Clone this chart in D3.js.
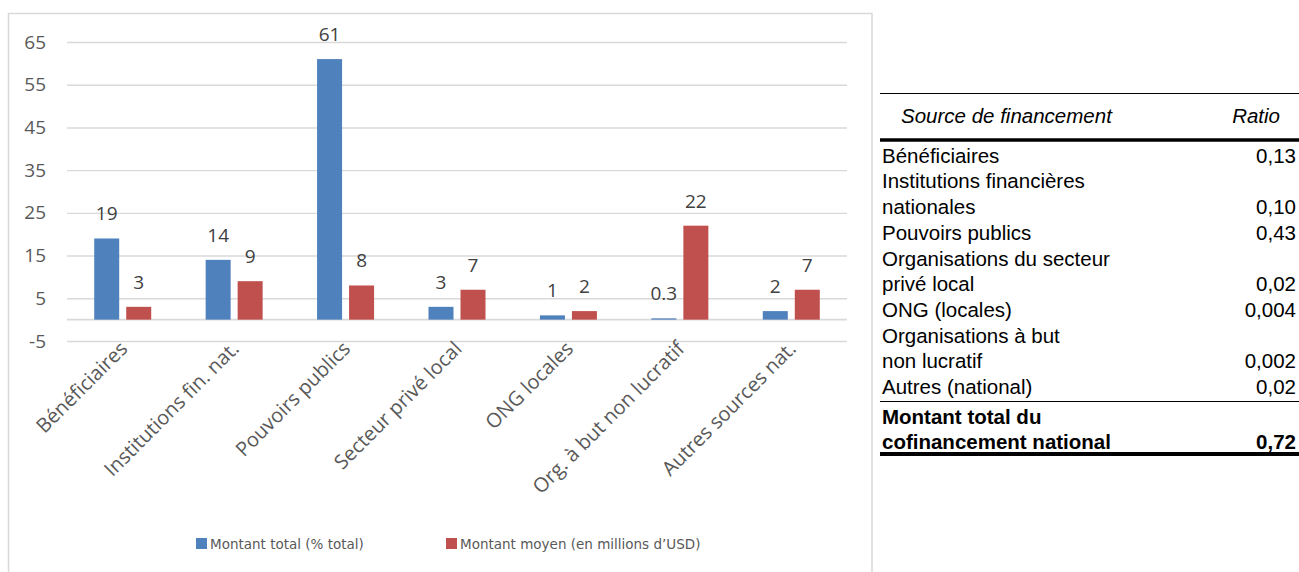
<!DOCTYPE html>
<html lang="fr">
<head>
<meta charset="utf-8">
<script src="https://cdn.jsdelivr.net/npm/d3@7/dist/d3.min.js"></script>
<style>
  html, body { margin: 0; padding: 0; background: #fff; }
  svg { display: block; }
</style>
</head>
<body>
<svg id="chart" width="1299" height="572"></svg>
<script>
// Catégories de sources de financement national
const categories = [
  "Bénéficiaires",
  "Institutions fin. nat.",
  "Pouvoirs publics",
  "Secteur privé local",
  "ONG locales",
  "Org. à but non lucratif",
  "Autres sources nat."
];

// Séries
const seriesNames = ["Montant total (% total)", "Montant moyen (en millions d\u2019USD)"];
const montantTotal = [19, 14, 61, 3, 1, 0.3, 2];
const montantMoyen = [3, 9, 8, 7, 2, 22, 7];

// Graduations de l'axe vertical
const yTicks = [-5, 5, 15, 25, 35, 45, 55, 65];

// Tableau des ratios
const tableSources = [
  ["Bénéficiaires"],
  ["Institutions financières", "nationales"],
  ["Pouvoirs publics"],
  ["Organisations du secteur", "privé local"],
  ["ONG (locales)"],
  ["Organisations à but", "non lucratif"],
  ["Autres (national)"]
];
const tableRatios = ["0,13", "0,10", "0,43", "0,02", "0,004", "0,002", "0,02"];
const totalLabel = ["Montant total du", "cofinancement national"];
const totalRatio = "0,72";

const colors = ["#4f81bd", "#c0504d"];
const svg = d3.select("#chart");

// Cadre du graphique
svg.append("rect")
  .attr("x", 8.5).attr("y", 13.5)
  .attr("width", 863.5).attr("height", 600)
  .attr("fill", "none")
  .attr("stroke", "#d9d9d9")
  .attr("stroke-width", 1.5);

const plotLeft = 67, plotRight = 847;
const y = d3.scaleLinear().domain([-5, 65]).range([341, 42]);
const x0 = d3.scaleBand().domain(categories).range([plotLeft, plotRight]);
const x1 = d3.scaleBand().domain([0, 1]).range([-28.5, 28.5]).paddingInner(7 / 32);

// Quadrillage horizontal
const yAxis = d3.axisLeft(y).tickValues(yTicks).tickSize(-(plotRight - plotLeft)).tickPadding(21).tickFormat(d => String(d));
const gy = svg.append("g").attr("transform", `translate(${plotLeft},0)`).call(yAxis);
gy.select(".domain").remove();
gy.selectAll(".tick line").attr("stroke", "#d9d9d9").attr("stroke-width", 1.4);
gy.selectAll(".tick text")
  .attr("fill", "#595959")
  .style("font-family", "'Open Sans', sans-serif")
  .style("font-size", "19px");

// Ligne de base (zéro)
svg.append("line")
  .attr("x1", plotLeft).attr("x2", plotRight)
  .attr("y1", y(0)).attr("y2", y(0))
  .attr("stroke", "#d9d9d9").attr("stroke-width", 1.6);

// Barres
const series = [montantTotal, montantMoyen];
series.forEach((vals, s) => {
  const g = svg.append("g");
  g.selectAll("rect")
    .data(vals)
    .join("rect")
    .attr("x", (d, i) => x0(categories[i]) + x0.bandwidth() / 2 + x1(s))
    .attr("width", x1.bandwidth())
    .attr("y", d => y(Math.max(0, d)))
    .attr("height", d => Math.abs(y(d) - y(0)))
    .attr("fill", colors[s]);

  g.selectAll("text")
    .data(vals)
    .join("text")
    .attr("x", (d, i) => x0(categories[i]) + x0.bandwidth() / 2 + x1(s) + x1.bandwidth() / 2)
    .attr("y", d => y(d) - 18)
    .attr("text-anchor", "middle")
    .attr("fill", "#404040")
    .style("font-family", "'Open Sans', sans-serif")
    .style("font-size", "19px")
    .text(d => String(d));
});

// Étiquettes des catégories
svg.append("g").selectAll("text")
  .data(categories)
  .join("text")
  .attr("transform", d => `translate(${x0(d) + x0.bandwidth() / 2 + 6},350) rotate(-45)`)
  .attr("text-anchor", "end")
  .attr("fill", "#595959")
  .style("font-family", "'Open Sans', sans-serif")
  .style("font-size", "20px")
  .text(d => d);

// Légende
const legendX = [196, 446];
const lg = svg.append("g");
seriesNames.forEach((name, s) => {
  lg.append("rect")
    .attr("x", legendX[s]).attr("y", 538)
    .attr("width", 11).attr("height", 11)
    .attr("fill", colors[s]);
  lg.append("text")
    .attr("x", legendX[s] + 14).attr("y", 548.5)
    .attr("fill", "#595959")
    .style("font-family", "'DejaVu Sans', sans-serif")
    .style("font-size", "13.5px")
    .text(name);
});

// Tableau des ratios
const tLeft = 880, tRight = 1299, textX = 882, valX = 1296;
const tFont = "'Liberation Sans', Arial, sans-serif";
const tg = svg.append("g").style("font-family", tFont).style("font-size", "20.5px").attr("fill", "#000");

tg.append("line").attr("x1", tLeft).attr("x2", tRight).attr("y1", 93.5).attr("y2", 93.5)
  .attr("stroke", "#000").attr("stroke-width", 1.2);
tg.append("text").attr("x", 901).attr("y", 122.7).style("font-style", "italic").text("Source de financement");
tg.append("text").attr("x", 1280).attr("y", 122.7).attr("text-anchor", "end").style("font-style", "italic").text("Ratio");
tg.append("line").attr("x1", tLeft).attr("x2", tRight).attr("y1", 140).attr("y2", 140)
  .attr("stroke", "#000").attr("stroke-width", 3.4);

const firstBase = 162.7, pitch = 25.7;
let lineIdx = 0;
tableSources.forEach((lines, r) => {
  lines.forEach((ln, k) => {
    tg.append("text").attr("x", textX).attr("y", firstBase + pitch * (lineIdx + k)).text(ln);
  });
  lineIdx += lines.length;
  tg.append("text")
    .attr("x", valX).attr("y", firstBase + pitch * (lineIdx - 1))
    .attr("text-anchor", "end")
    .text(tableRatios[r]);
});

tg.append("line").attr("x1", tLeft).attr("x2", tRight).attr("y1", 401.5).attr("y2", 401.5)
  .attr("stroke", "#000").attr("stroke-width", 1.2);

const totalBase = [423.5, 448.8];
totalLabel.forEach((ln, k) => {
  tg.append("text").attr("x", textX).attr("y", totalBase[k]).style("font-weight", "bold").text(ln);
});
tg.append("text").attr("x", valX).attr("y", totalBase[1]).attr("text-anchor", "end")
  .style("font-weight", "bold").text(totalRatio);
tg.append("line").attr("x1", tLeft).attr("x2", tRight).attr("y1", 454).attr("y2", 454)
  .attr("stroke", "#000").attr("stroke-width", 3.8);
</script>
</body>
</html>
